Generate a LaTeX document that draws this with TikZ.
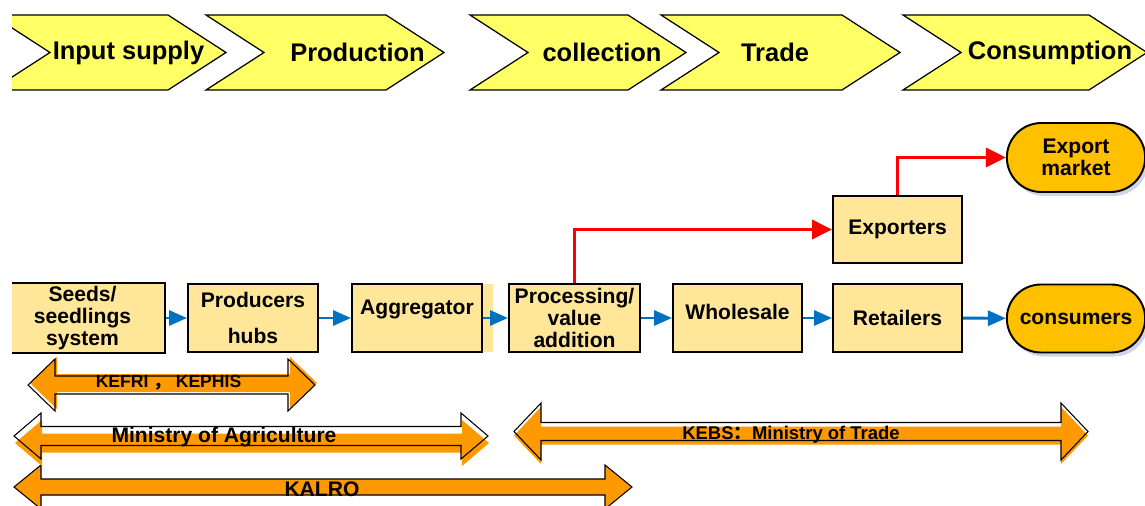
\documentclass[tikz,border=0pt]{standalone}
\usepackage{fontspec}
\setmainfont{Liberation Sans}
\newfontfamily\cjk{Noto Sans CJK SC}
\usetikzlibrary{arrows.meta,shapes.misc,shadows}
\definecolor{chevyellow}{HTML}{FFFF66}
\definecolor{boxyellow}{HTML}{FFE699}
\definecolor{ovalgold}{HTML}{FFC000}
\definecolor{flowblue}{HTML}{0070C0}
\definecolor{exportred}{HTML}{FF0000}
\definecolor{govorange}{HTML}{FF9900}
\definecolor{shadowblue}{HTML}{CFD7E6}
\tikzset{
  chev/.style={fill=chevyellow, draw=black, line width=0.7pt},
  chevtext/.style={font=\fontsize{14.5}{16}\selectfont\bfseries, inner sep=0pt},
  box/.style={draw, line width=1.1pt, fill=boxyellow, align=center, minimum height=1.36cm,
              minimum width=2.6cm, font=\fontsize{12}{12.5}\selectfont\bfseries, inner sep=2pt},
  oval/.style={rounded rectangle, draw, line width=1.1pt, fill=ovalgold, align=center,
               minimum height=1.36cm, minimum width=3cm, font=\fontsize{12}{12.5}\selectfont\bfseries,
               drop shadow={shadow xshift=0.06cm, shadow yshift=-0.08cm, fill=shadowblue, opacity=1}},
  flow/.style={-{Triangle[length=0.36cm,width=0.3cm]}, flowblue, line width=1.7pt},
  exportflow/.style={-{Triangle[length=0.4cm,width=0.38cm]}, exportred, line width=2pt},
  govtext/.style={font=\bfseries, inner sep=0pt},
}
% left tip, right tip, mid y, head half, shaft half, shadow shift
\newcommand{\govarrow}[6]{%
  \fill[govorange, shift={#6}] (#1,#3) -- ({#1+0.54},{#3+#4}) -- ({#1+0.54},{#3+#5}) -- ({#2-0.54},{#3+#5})
    -- ({#2-0.54},{#3+#4}) -- (#2,#3) -- ({#2-0.54},{#3-#4}) -- ({#2-0.54},{#3-#5})
    -- ({#1+0.54},{#3-#5}) -- ({#1+0.54},{#3-#4}) -- cycle;
  \draw[line width=0.6pt] (#1,#3) -- ({#1+0.54},{#3+#4}) -- ({#1+0.54},{#3+#5}) -- ({#2-0.54},{#3+#5})
    -- ({#2-0.54},{#3+#4}) -- (#2,#3) -- ({#2-0.54},{#3-#4}) -- ({#2-0.54},{#3-#5})
    -- ({#1+0.54},{#3-#5}) -- ({#1+0.54},{#3-#4}) -- cycle;
}

\begin{document}
\begin{tikzpicture}
  \useasboundingbox (0,0) rectangle (22.9,10.1);
  \begin{scope}
    \clip (0.24,0) rectangle (22.9,10.1);
    % value chain stages
    \foreach \l/\r/\tx/\txt [count=\i] in {-0.16/3.36/2.57/Input supply, 4.12/7.72/7.15/Production,
        9.4/12.56/12.04/collection, 13.22/16.84/15.5/Trade, 18.06/21.78/21.0/Consumption} {
      \draw[chev] (\l,9.8) -- (\r,9.8) -- ({\r+1.16},9.05) -- (\r,8.3) -- (\l,8.3) -- ({\l+1.16},9.05) -- cycle;
      \node[chevtext] (chev\i) at (\tx,9.05) {\txt};
    }
    \node[box, minimum width=3.3cm, minimum height=1.28cm] (seeds) at (1.65,3.74) {Seeds/\\seedlings\\system};
  \end{scope}
  \fill[boxyellow] (9.64,3.06) rectangle (9.86,4.42);
  \node[box] (prod) at (5.06,3.74) {Producers\\[8pt]hubs};
  \node[box, text depth=12pt] (agg) at (8.34,3.74) {Aggregator};
  \node[box, minimum width=2.62cm] (proc) at (11.49,3.74) {Processing/\\value\\addition};
  \node[box, minimum width=2.58cm, text depth=7.3pt] (whole) at (14.75,3.74) {Wholesale};
  \node[box, minimum width=2.58cm] (ret) at (17.95,3.74) {Retailers};
  \node[box, minimum width=2.58cm, minimum height=1.34cm] (exp) at (17.95,5.51) {Exporters};
  \node[oval] (cons) at (21.52,3.73) {consumers};
  \node[oval, minimum height=1.38cm] (expm) at (21.52,6.95) {Export\\market};
  \draw[flow] (seeds) -- (prod);
  \draw[flow] (prod) -- (agg);
  \draw[flow] (agg) -- (proc);
  \draw[flow] (proc) -- (whole);
  \draw[flow] (whole) -- (ret);
  \draw[flow] (ret) -- (cons);
  \draw[exportflow] (proc.north) |- (exp.west);
  \draw[exportflow] (exp.north) |- (expm.west);
  % institutions
  \govarrow{0.28}{12.64}{0.36}{0.44}{0.16}{(0,0)}
  \govarrow{0.28}{9.76}{1.38}{0.46}{0.19}{(0.02,-0.14)}
  \govarrow{0.56}{6.3}{2.4}{0.52}{0.18}{(0.04,0.04)}
  \govarrow{10.28}{21.76}{1.47}{0.57}{0.18}{(0,-0.08)}
  \node[govtext, font=\fontsize{10}{11}\selectfont\bfseries] (kefri) at (3.37,2.44) {KEFRI {\cjk ，} KEPHIS};
  \node[govtext, font=\fontsize{12}{14}\selectfont\bfseries] (moa) at (4.48,1.36) {Ministry of Agriculture};
  \node[govtext, font=\fontsize{10.5}{12}\selectfont\bfseries] (kebs) at (15.82,1.4) {KEBS{\cjk ：}Ministry of Trade};
  \node[govtext, font=\fontsize{12}{14}\selectfont\bfseries] (kalro) at (6.44,0.32) {KALRO};
\end{tikzpicture}
\end{document}
